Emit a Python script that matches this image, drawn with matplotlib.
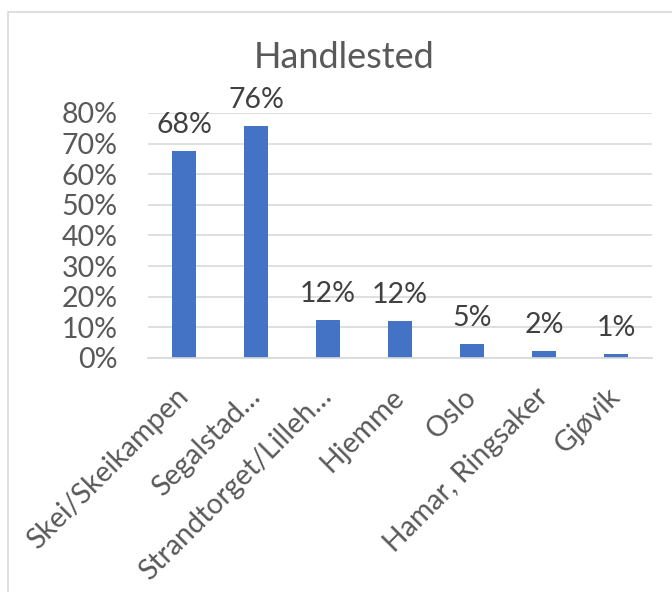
import matplotlib
matplotlib.use("Agg")
import matplotlib.pyplot as plt
from matplotlib.patches import Rectangle

categories = ["Skei/Skeikampen", "Segalstad…", "Strandtorget/Lilleh…", "Hjemme",
              "Oslo", "Hamar, Ringsaker", "Gjøvik"]
values = [0.676, 0.757, 0.124, 0.121, 0.047, 0.023, 0.012]
yticks = [0, 0.1, 0.2, 0.3, 0.4, 0.5, 0.6, 0.7, 0.8]
ytick_labels = ["0%", "10%", "20%", "30%", "40%", "50%", "60%", "70%", "80%"]
title = "Handlested"

plt.rcParams['font.family'] = ['Lato', 'DejaVu Sans']

W, H = 672, 592
fig = plt.figure(figsize=(W / 100, H / 100), dpi=100)

# chart border (extends beyond the image on right/bottom)
fig.patches.append(Rectangle((7.5 / W, -0.1), 1.2, 1.1 - 12 / H, transform=fig.transFigure,
                             fill=False, edgecolor="#d9d9d9", linewidth=1.2))

left, right, bottom, top = 148, 652, 358, 113
ax = fig.add_axes([left / W, 1 - bottom / H, (right - left) / W, (bottom - top) / H])

x = list(range(len(categories)))
bars = ax.bar(x, values, width=0.32, color="#4472C4", zorder=3)
ax.set_xlim(-0.5, len(categories) - 0.5)
ax.set_ylim(0, 0.8)
ax.set_yticks(yticks)
ax.set_yticklabels(ytick_labels)
ax.set_xticks(x)
ax.set_xticklabels(categories, rotation=45, ha='right', va='center', rotation_mode='anchor')
ax.tick_params(axis='y', length=0, pad=22, labelsize=20.5, labelcolor="#595959")
ax.tick_params(axis='x', length=0, pad=25, labelsize=20.5, labelcolor="#595959")
ax.grid(axis='y', color="#d9d9d9", linewidth=1.2, zorder=0)
for s in ['top', 'right', 'left']:
    ax.spines[s].set_visible(False)
ax.spines['bottom'].set_color("#d9d9d9")
ax.spines['bottom'].set_linewidth(1.2)
ax.spines['bottom'].set_zorder(4)

for xi, v in zip(x, values):
    ax.annotate(f"{round(v * 100):d}%", (xi, v), xytext=(0, 13), textcoords='offset points',
                ha='center', va='baseline', fontsize=20.5, color="#404040", annotation_clip=False)

fig.text(344 / W, 1 - 68 / H, title, ha='center', va='baseline', fontsize=26, color="#595959")

fig.savefig("out.png", dpi=100)
